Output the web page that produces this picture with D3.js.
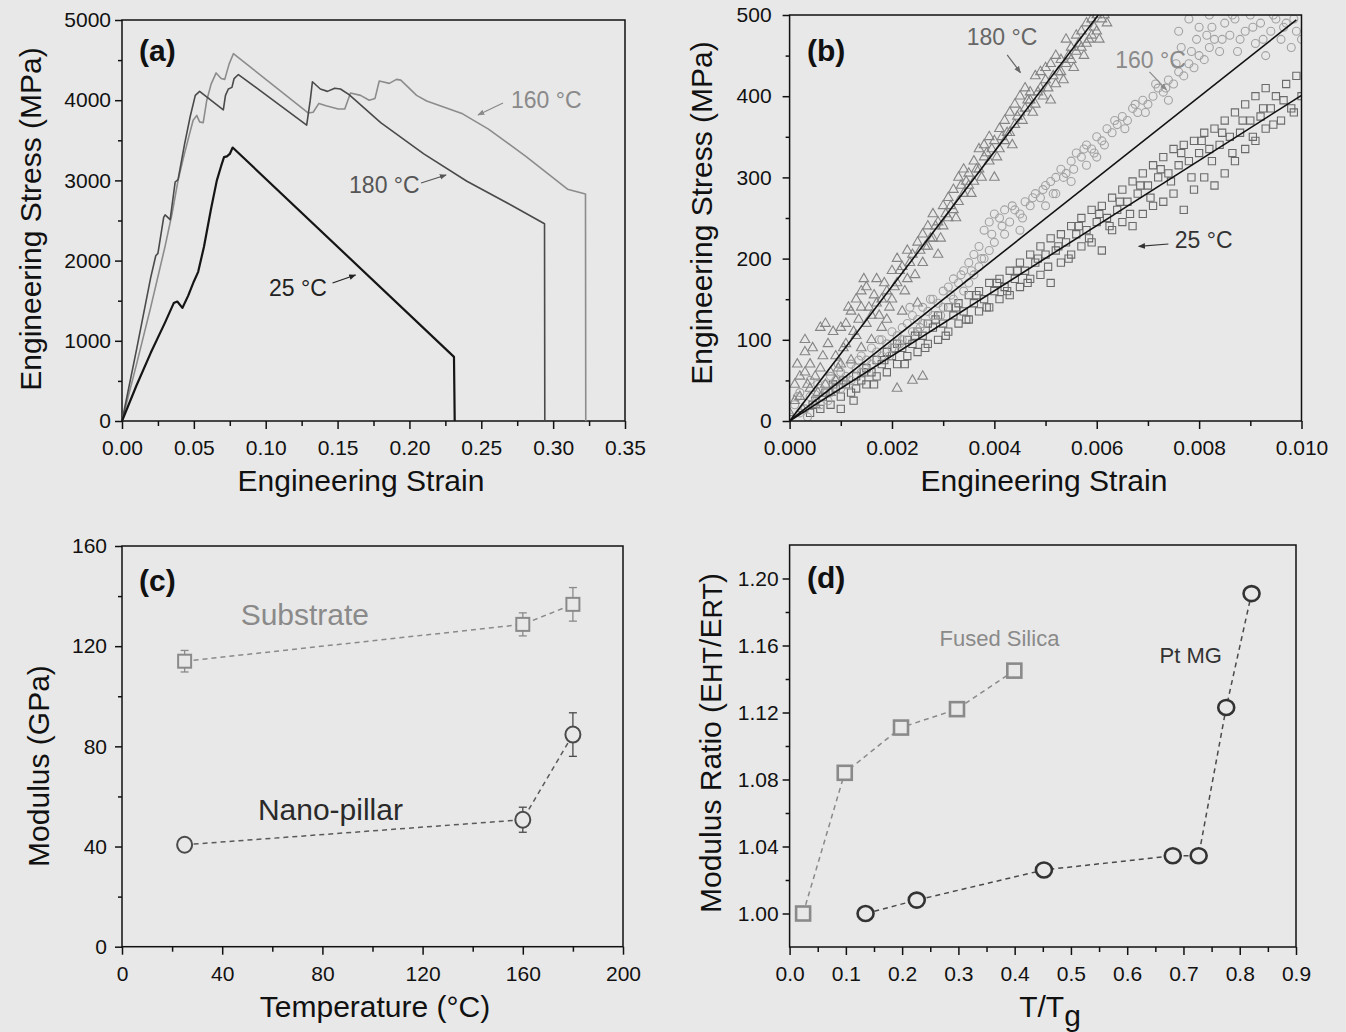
<!DOCTYPE html>
<html>
<head>
<meta charset="utf-8">
<script src="https://cdn.jsdelivr.net/npm/d3@7"></script>
<style>
body { margin: 0; background: #e8e8e8; }
svg { display: block; font-family: "Liberation Sans", Arial, sans-serif; }
.axis text { font-size: 21px; fill: #111; }
.axis line { stroke: #111; stroke-width: 1.5px; }
.title { font-size: 30px; fill: #111; }
.plabel { font-size: 30px; font-weight: bold; fill: #111; }
</style>
</head>
<body>
<script>
// ---- panel (a): stress-strain curves [strain, stress MPa]
var curve160 = [[0,0],[0.010,700],[0.020,1420],[0.030,2180],[0.035,2600],[0.039,3000],[0.043,3300],[0.047,3580],
    [0.0495,3750],[0.052,3810],[0.054,3730],[0.0565,3720],[0.059,4000],[0.062,4200],[0.0655,4340],[0.069,4270],
    [0.0715,4260],[0.0745,4450],[0.0775,4580],[0.1297,3840],[0.133,3850],[0.137,3960],[0.142,3930],[0.1505,3890],
    [0.155,3890],[0.159,4090],[0.166,4060],[0.172,4000],[0.176,4020],[0.179,4240],[0.186,4210],[0.191,4260],
    [0.194,4250],[0.205,4060],[0.212,3990],[0.237,3830],[0.255,3640],[0.281,3300],[0.310,2890],[0.3225,2830],[0.3227,0]];
var curve180 = [[0,0],[0.010,880],[0.020,1790],[0.0235,2060],[0.025,2090],[0.029,2540],[0.030,2570],[0.0335,2510],
    [0.037,2980],[0.039,3010],[0.0435,3450],[0.0475,3800],[0.051,4060],[0.054,4110],[0.0705,3880],[0.072,4060],
    [0.074,4140],[0.0765,4160],[0.078,4270],[0.081,4320],[0.1285,3690],[0.131,4000],[0.1325,4230],[0.138,4140],
    [0.143,4110],[0.148,4150],[0.152,4140],[0.158,4070],[0.180,3720],[0.210,3330],[0.240,2990],[0.270,2700],
    [0.294,2460],[0.2942,0]];
var curve25 = [[0,0],[0.010,440],[0.020,850],[0.030,1230],[0.036,1470],[0.0385,1490],[0.042,1410],[0.046,1560],
    [0.050,1740],[0.053,1860],[0.057,2170],[0.062,2650],[0.066,3000],[0.069,3180],[0.071,3290],[0.073,3300],
    [0.075,3330],[0.077,3410],[0.231,800],[0.2315,0]];

// ---- panel (b): elastic region scatter [strain, stress MPa]
var tri180 = [[0,10],[.0001,45],[.0001,25],[.0002,55],[.0002,30],[.0003,100],[.0003,85],[.0003,60],[.0004,40],[.0004,70],
    [.0005,20],[.0005,55],[.0006,65],[.0006,115],[.0007,120],[.0007,45],[.0008,60],[.0008,35],[.0009,80],[.0009,50],
    [.0010,115],[.0010,70],[.0011,95],[.0011,120],[.0012,135],[.0012,75],[.0013,150],[.0013,105],[.0014,160],[.0014,140],
    [.0014,90],[.0015,165],[.0015,120],[.0016,130],[.0016,100],[.0017,175],[.0017,145],[.0018,150],[.0018,115],[.0019,160],
    [.0019,125],[.0020,185],[.0020,150],[.0021,200],[.0021,170],[.0021,40],[.0022,190],[.0022,135],[.0023,210],[.0023,175],
    [.0024,205],[.0024,50],[.0025,220],[.0025,145],[.0026,230],[.0026,195],[.0026,55],[.0027,240],[.0027,215],[.0028,255],
    [.0028,225],[.0029,245],[.0029,205],[.0030,265],[.0030,240],[.0031,275],[.0031,250],[.0032,285],[.0032,260],[.0033,300],
    [.0033,270],[.0034,310],[.0034,280],[.0035,305],[.0035,290],[.0036,320],[.0036,295],[.0037,335],[.0037,310],[.0038,340],
    [.0038,325],[.0039,350],[.0039,320],[.0040,345],[.0040,300],[.0041,360],[.0041,335],[.0042,370],[.0042,345],[.0043,380],
    [.0043,355],[.0044,390],[.0044,365],[.0045,400],[.0045,380],[.0046,410],[.0046,385],[.0047,405],[.0047,395],[.0048,425],
    [.0048,390],[.0049,430],[.0049,410],[.0050,435],[.0050,420],[.0051,440],[.0051,395],[.0052,450],[.0052,415],[.0053,445],
    [.0053,430],[.0054,470],[.0054,440],[.0055,460],[.0055,445],[.0056,475],[.0056,455],[.0057,480],[.0057,460],[.0058,490],
    [.0058,465],[.0059,495],[.0059,475],[.0060,500],[.0060,480],[.0061,495],[.0062,490],
    [.00015,70],[.00025,15],[.00035,45],[.00045,90],[.00055,35],[.00065,80],[.00075,95],[.00085,110],[.00095,65],[.00105,90],
    [.00115,140],[.00125,110],[.00135,125],[.00145,175],[.00155,140],[.00165,155],[.00175,130],[.00185,170],[.00195,140],
    [.00205,165],[.00215,185],[.00225,160],[.00235,195],[.00245,180],[.00255,210],[.00265,215],[.00275,225],[.00285,240],
    [.00295,225],[.00305,255],[.00315,265],[.00325,250],[.00335,290],[.00345,295],[.00355,280],[.00365,310],[.00375,300],
    [.00385,330],[.00395,335],[.00405,325],[.00415,350],[.00425,355],[.00435,340],[.00445,375],[.00455,370],[.00465,395],
    [.00475,380],[.00485,405],[.00495,400],[.00505,410],[.00515,425],[.00525,430],[.00535,420],[.00545,450],[.00555,435],
    [.00565,465],[.00575,450],[.00585,470],[.00595,485],[.00605,470],[.00615,500]];
var circ160 = [[0,5],[.0001,20],[.0002,10],[.0002,35],[.0003,15],[.0004,30],[.0004,50],[.0005,25],[.0006,40],[.0006,20],
    [.0007,45],[.0008,35],[.0008,55],[.0009,50],[.0010,60],[.0010,40],[.0011,55],[.0012,70],[.0012,50],[.0013,65],
    [.0014,80],[.0014,60],[.0015,75],[.0016,90],[.0016,70],[.0017,85],[.0018,100],[.0018,80],[.0019,95],[.0020,110],
    [.0020,90],[.0021,105],[.0022,115],[.0022,100],[.0023,120],[.0024,130],[.0024,110],[.0025,125],[.0026,140],[.0026,120],
    [.0027,135],[.0028,150],[.0028,130],[.0029,145],[.0030,160],[.0030,140],[.0031,165],[.0032,175],[.0032,150],[.0033,170],
    [.0034,185],[.0034,160],[.0035,195],[.0035,170],[.0036,205],[.0036,180],[.0037,215],[.0037,190],[.0038,235],[.0038,200],
    [.0039,245],[.0039,210],[.0040,255],[.0040,220],[.0041,250],[.0042,260],[.0042,230],[.0043,245],[.0044,260],[.0045,255],
    [.0045,235],[.0046,270],[.0047,265],[.0048,280],[.0049,275],[.0050,290],[.0050,265],[.0051,295],[.0052,300],[.0052,280],
    [.0053,310],[.0054,305],[.0055,320],[.0055,295],[.0056,330],[.0057,325],[.0058,340],[.0058,315],[.0059,335],[.0060,350],
    [.0060,325],[.0061,345],[.0062,360],[.0063,355],[.0064,365],[.0065,375],[.0066,370],[.0067,385],[.0068,380],[.0069,395],
    [.0070,390],[.0071,400],[.0072,410],[.0073,405],[.0074,420],[.0074,395],[.0075,415],[.0076,430],[.0076,480],[.0077,425],
    [.0078,440],[.0078,495],[.0079,435],[.0080,450],[.0080,485],[.0081,445],[.0082,460],[.0082,500],[.0083,470],[.0084,455],
    [.0085,490],[.0086,475],[.0087,495],[.0088,470],[.0089,480],[.0090,500],[.0091,465],[.0092,490],[.0093,450],[.0094,480],
    [.0095,495],[.0096,470],[.0097,490],[.0098,460],[.0099,480],[.0100,470],
    [.00015,30],[.00035,5],[.00055,45],[.00075,25],[.00095,70],[.00115,45],[.00135,75],[.00155,60],[.00175,100],[.00195,80],
    [.00215,95],[.00235,140],[.00255,115],[.00275,150],[.00295,130],[.00315,155],[.00335,180],[.00355,185],[.00375,200],
    [.00395,230],[.00415,240],[.00435,265],[.00455,250],[.00475,275],[.00495,285],[.00515,280],[.00535,300],[.00555,310],
    [.00575,335],[.00595,330],[.00615,340],[.00635,370],[.00655,360],[.00675,390],[.00695,380],[.00715,415],[.00735,410],
    [.00755,440],[.00765,460],[.00785,455],[.00795,470],[.00815,475],[.00825,485],[.00845,470],[.00865,500],[.00875,455],
    [.00905,485],[.00925,470],[.00945,500],[.00965,485],[.00985,495]];
var sq25 = [[.0004,10],[.0005,25],[.0006,15],[.0007,35],[.0008,20],[.0009,40],[.0010,30],[.0010,15],[.0011,45],[.0012,35],
    [.0013,55],[.0013,40],[.0014,50],[.0015,65],[.0015,45],[.0016,60],[.0017,75],[.0017,55],[.0018,70],[.0019,85],
    [.0019,60],[.0020,80],[.0021,95],[.0021,70],[.0022,90],[.0023,100],[.0023,80],[.0024,95],[.0025,110],[.0025,85],
    [.0026,105],[.0027,120],[.0027,95],[.0028,115],[.0029,130],[.0029,100],[.0030,120],[.0031,140],[.0031,110],[.0032,130],
    [.0033,145],[.0033,120],[.0034,135],[.0035,155],[.0035,125],[.0036,145],[.0037,160],[.0037,135],[.0038,150],[.0039,170],
    [.0039,140],[.0040,160],[.0041,175],[.0041,150],[.0042,165],[.0043,185],[.0043,155],[.0044,175],[.0045,195],[.0045,165],
    [.0046,185],[.0047,205],[.0047,175],[.0048,195],[.0049,215],[.0049,180],[.0050,205],[.0051,225],[.0051,170],[.0052,210],
    [.0053,230],[.0053,195],[.0054,220],[.0055,240],[.0055,205],[.0056,230],[.0057,250],[.0057,215],[.0058,235],[.0059,260],
    [.0059,220],[.0060,245],[.0061,265],[.0061,210],[.0062,250],[.0063,275],[.0063,235],[.0064,260],[.0065,285],[.0065,245],
    [.0066,270],[.0067,295],[.0067,240],[.0068,280],[.0069,305],[.0069,255],[.0070,290],[.0071,315],[.0071,265],[.0072,300],
    [.0073,325],[.0073,270],[.0074,305],[.0075,335],[.0075,280],[.0076,315],[.0077,340],[.0077,260],[.0078,320],[.0079,345],
    [.0079,285],[.0080,330],[.0081,355],[.0081,300],[.0082,335],[.0083,360],[.0083,290],[.0084,340],[.0085,370],[.0085,305],
    [.0086,350],[.0087,380],[.0087,320],[.0088,355],[.0089,390],[.0089,335],[.0090,370],[.0091,400],[.0091,345],[.0092,375],
    [.0093,410],[.0093,360],[.0094,385],[.0095,400],[.0096,370],[.0097,415],[.0098,385],[.0099,425],[.0100,400],
    [.00045,20],[.00065,30],[.00085,45],[.00105,50],[.00125,25],[.00145,60],[.00165,45],[.00185,75],[.00205,90],[.00225,70],
    [.00245,105],[.00265,90],[.00285,125],[.00305,105],[.00325,140],[.00345,125],[.00365,155],[.00385,140],[.00405,170],
    [.00425,160],[.00445,185],[.00465,170],[.00485,200],[.00505,190],[.00525,215],[.00545,200],[.00565,240],[.00585,225],
    [.00605,255],[.00625,240],[.00645,270],[.00665,255],[.00685,290],[.00705,275],[.00725,310],[.00745,295],[.00765,330],
    [.00785,300],[.00805,345],[.00825,320],[.00845,355],[.00865,330],[.00885,370],[.00905,350],[.00925,385],[.00945,365],
    [.00965,395],[.00985,380]];
var fit180 = [[0,0],[0.00603,500]];
var fit160 = [[0,0],[0.0099,494]];
var fit25 = [[0,0],[0.0100,401]];

// ---- panel (c): modulus vs temperature
var temps = [25, 160, 180];
var substrate = [114, 128.7, 136.7];
var substrateErr = [4.3, 4.6, 6.7];
var pillar = [40.7, 50.7, 84.7];
var pillarErr = [2.5, 5, 8.7];

// ---- panel (d): modulus ratio vs T/Tg
var silicaT = [0.024, 0.098, 0.198, 0.2975, 0.3994];
var silicaR = [1.000, 1.084, 1.111, 1.122, 1.145];
var ptmgT = [0.135, 0.226, 0.452, 0.681, 0.727, 0.776, 0.821];
var ptmgR = [1.000, 1.008, 1.026, 1.0345, 1.0345, 1.123, 1.191];

// tick labels
var ticksAx = [0, 0.05, 0.10, 0.15, 0.20, 0.25, 0.30, 0.35];
var ticksAy = [0, 1000, 2000, 3000, 4000, 5000];
var ticksBx = [0, 0.002, 0.004, 0.006, 0.008, 0.010];
var ticksBy = [0, 100, 200, 300, 400, 500];
var ticksCx = [0, 40, 80, 120, 160, 200];
var ticksCy = [0, 40, 80, 120, 160];
var ticksDx = [0, 0.1, 0.2, 0.3, 0.4, 0.5, 0.6, 0.7, 0.8, 0.9];
var ticksDy = [1.00, 1.04, 1.08, 1.12, 1.16, 1.20];

var svg = d3.select("body").append("svg")
    .attr("width", 1346)
    .attr("height", 1032);

svg.append("rect").attr("width", 1346).attr("height", 1032).attr("fill", "#e8e8e8");

var arrowColors = ["#8a8a8a", "#555", "#222", "#666", "#333"];
var defs = svg.append("defs");
arrowColors.forEach(function(c, i) {
    defs.append("marker")
        .attr("id", "arr" + i)
        .attr("viewBox", "0 0 10 10")
        .attr("refX", 9).attr("refY", 5)
        .attr("markerWidth", 7).attr("markerHeight", 7)
        .attr("markerUnits", "userSpaceOnUse")
        .attr("orient", "auto")
        .append("path")
        .attr("d", "M0,1 L10,5 L0,9 z")
        .attr("fill", c);
});

function axes(g, x, y, o) {
    var b = y.range()[0], t = y.range()[1], l = x.range()[0], r = x.range()[1];
    g.append("g").attr("class", "axis").attr("transform", "translate(0," + b + ")")
        .call(d3.axisBottom(x).tickValues(o.xMinor).tickSize(5).tickSizeOuter(0).tickFormat(""))
        .call(s => s.select(".domain").remove());
    g.append("g").attr("class", "axis").attr("transform", "translate(0," + b + ")")
        .call(d3.axisBottom(x).tickValues(o.xMajor).tickSize(8).tickSizeOuter(0).tickPadding(11).tickFormat(o.xFmt))
        .call(s => s.select(".domain").remove());
    g.append("g").attr("class", "axis").attr("transform", "translate(" + l + ",0)")
        .call(d3.axisLeft(y).tickValues(o.yMinor).tickSize(4).tickSizeOuter(0).tickFormat(""))
        .call(s => s.select(".domain").remove());
    g.append("g").attr("class", "axis").attr("transform", "translate(" + l + ",0)")
        .call(d3.axisLeft(y).tickValues(o.yMajor).tickSize(7).tickSizeOuter(0).tickPadding(o.yPad).tickFormat(o.yFmt))
        .call(s => s.select(".domain").remove());
    g.append("rect")
        .attr("x", l).attr("y", t)
        .attr("width", r - l).attr("height", b - t)
        .attr("fill", "none").attr("stroke", "#111").attr("stroke-width", 1.5);
}

function titles(g, xt, xpos, yt, ypos) {
    g.append("text").attr("class", "title")
        .attr("x", xpos[0]).attr("y", xpos[1])
        .attr("text-anchor", "middle").attr("dominant-baseline", "central")
        .text(xt);
    g.append("text").attr("class", "title")
        .attr("transform", "translate(" + ypos[0] + "," + ypos[1] + ") rotate(-90)")
        .attr("text-anchor", "middle").attr("dominant-baseline", "central")
        .text(yt);
}

function callout(g, x, y, d, size, anchor) {
    g.append("text")
        .attr("x", x(d.at[0])).attr("y", y(d.at[1]))
        .attr("text-anchor", anchor).attr("dominant-baseline", "central")
        .attr("font-size", size).attr("fill", d.color)
        .text(d.text);
    g.append("line")
        .attr("x1", x(d.from[0])).attr("y1", y(d.from[1]))
        .attr("x2", x(d.to[0])).attr("y2", y(d.to[1]))
        .attr("stroke", d.color).attr("stroke-width", 1.2)
        .attr("marker-end", "url(#arr" + arrowColors.indexOf(d.color) + ")");
}

var fmt = d3.format(".2f");

// ============ (a) ============
var ga = svg.append("g");
var xa = d3.scaleLinear().domain([0, 0.35]).range([122, 625]);
var ya = d3.scaleLinear().domain([0, 5000]).range([421, 20]);
axes(ga, xa, ya, {
    xMajor: ticksAx, xMinor: d3.range(0.025, 0.35, 0.05), xFmt: fmt,
    yMajor: ticksAy, yMinor: d3.range(500, 5000, 1000), yFmt: d3.format("d"), yPad: 4
});
var lineA = d3.line().x(d => xa(d[0])).y(d => ya(d[1]));
[[curve160, "#8c8c8c", 1.6], [curve180, "#4a4a4a", 1.6], [curve25, "#151515", 2.2]].forEach(function(c) {
    ga.append("path").datum(c[0])
        .attr("d", lineA)
        .attr("fill", "none")
        .attr("stroke", c[1])
        .attr("stroke-width", c[2])
        .attr("stroke-linejoin", "round");
});
var labelsA = [
    {text: "160 °C", at: [0.2707, 4002], from: [0.2651, 3965], to: [0.2477, 3815], color: "#8a8a8a"},
    {text: "180 °C", at: [0.158, 2943], from: [0.2081, 2968], to: [0.2255, 3067], color: "#555"},
    {text: "25 °C", at: [0.1023, 1658], from: [0.1465, 1721], to: [0.1625, 1820], color: "#222"}
];
labelsA.forEach(d => callout(ga, xa, ya, d, 23, "start"));
ga.append("text").attr("class", "plabel").attr("x", 139).attr("y", 50)
    .attr("dominant-baseline", "central").text("(a)");
titles(ga, "Engineering Strain", [361, 480], "Engineering Stress (MPa)", [30, 219]);

// ============ (b) ============
var gb = svg.append("g");
var xb = d3.scaleLinear().domain([0, 0.010]).range([789.6, 1301.5]);
var yb = d3.scaleLinear().domain([0, 500]).range([421, 15]);
gb.append("clipPath").attr("id", "clipb").append("rect")
    .attr("x", 789.6).attr("y", 15).attr("width", 1301.5 - 789.6).attr("height", 406);
var pts = gb.append("g").attr("clip-path", "url(#clipb)");
[[sq25, d3.symbolSquare, 52, "#6a6a6a"], [circ160, d3.symbolCircle, 50, "#a2a2a2"], [tri180, d3.symbolTriangle, 40, "#858585"]]
    .forEach(function(s) {
        pts.append("g").selectAll("path")
            .data(s[0])
            .join("path")
            .attr("transform", d => "translate(" + xb(d[0]) + "," + yb(d[1]) + ")")
            .attr("d", d3.symbol(s[1], s[2]))
            .attr("fill", "none")
            .attr("stroke", s[3])
            .attr("stroke-width", 1.1);
    });
var lineB = d3.line().x(d => xb(d[0])).y(d => yb(d[1]));
[fit180, fit160, fit25].forEach(function(f) {
    pts.append("path").datum(f).attr("d", lineB)
        .attr("fill", "none").attr("stroke", "#111").attr("stroke-width", 1.6);
});
axes(gb, xb, yb, {
    xMajor: ticksBx, xMinor: d3.range(0.001, 0.010, 0.002), xFmt: d3.format(".3f"),
    yMajor: ticksBy, yMinor: d3.range(50, 500, 100), yFmt: d3.format("d"), yPad: 11
});
var labelsB = [
    {text: "180 °C", at: [0.00415, 473], from: [0.00425, 451], to: [0.00451, 429], color: "#666"},
    {text: "160 °C", at: [0.00705, 445], from: [0.00703, 430], to: [0.00736, 408], color: "#8a8a8a"},
    {text: "25 °C", at: [0.00809, 223], from: [0.0074, 218], to: [0.00682, 215], color: "#333"}
];
labelsB.forEach(d => callout(gb, xb, yb, d, 23, "middle"));
gb.append("text").attr("class", "plabel").attr("x", 807).attr("y", 50)
    .attr("dominant-baseline", "central").text("(b)");
titles(gb, "Engineering Strain", [1044, 480], "Engineering Stress (MPa)", [701, 213]);

// ============ (c) ============
var gc = svg.append("g");
var xc = d3.scaleLinear().domain([0, 200]).range([122, 623]);
var yc = d3.scaleLinear().domain([0, 160]).range([946.7, 546]);
axes(gc, xc, yc, {
    xMajor: ticksCx, xMinor: d3.range(20, 200, 40), xFmt: d3.format("d"),
    yMajor: ticksCy, yMinor: d3.range(20, 160, 40), yFmt: d3.format("d"), yPad: 8
});
var seriesC = [
    {vals: substrate, err: substrateErr, color: "#8a8a8a", dash: "#8a8a8a", shape: "square"},
    {vals: pillar, err: pillarErr, color: "#4a4a4a", dash: "#5a5a5a", shape: "circle"}
];
seriesC.forEach(function(s) {
    var data = temps.map((t, i) => ({t: t, v: s.vals[i], e: s.err[i]}));
    gc.append("path").datum(data)
        .attr("d", d3.line().x(d => xc(d.t)).y(d => yc(d.v)))
        .attr("fill", "none").attr("stroke", s.dash)
        .attr("stroke-width", 1.5).attr("stroke-dasharray", "5,4");
    var eb = gc.append("g").selectAll("g").data(data).join("g");
    eb.append("line")
        .attr("x1", d => xc(d.t)).attr("x2", d => xc(d.t))
        .attr("y1", d => yc(d.v - d.e)).attr("y2", d => yc(d.v + d.e))
        .attr("stroke", s.color).attr("stroke-width", 1.3);
    [-1, 1].forEach(function(sg) {
        eb.append("line")
            .attr("x1", d => xc(d.t) - 4).attr("x2", d => xc(d.t) + 4)
            .attr("y1", d => yc(d.v + sg * d.e)).attr("y2", d => yc(d.v + sg * d.e))
            .attr("stroke", s.color).attr("stroke-width", 1.3);
    });
    if (s.shape == "square") {
        eb.append("rect")
            .attr("x", d => xc(d.t) - 6.5).attr("y", d => yc(d.v) - 6.5)
            .attr("width", 13).attr("height", 13)
            .attr("fill", "#e8e8e8").attr("stroke", s.color).attr("stroke-width", 2);
    } else {
        eb.append("ellipse")
            .attr("cx", d => xc(d.t)).attr("cy", d => yc(d.v))
            .attr("rx", 7.5).attr("ry", 8)
            .attr("fill", "#e8e8e8").attr("stroke", s.color).attr("stroke-width", 2);
    }
});
gc.append("text").attr("x", xc(73)).attr("y", yc(132.7))
    .attr("text-anchor", "middle").attr("dominant-baseline", "central")
    .attr("font-size", 30).attr("fill", "#8a8a8a").text("Substrate");
gc.append("text").attr("x", xc(83.2)).attr("y", yc(54.7))
    .attr("text-anchor", "middle").attr("dominant-baseline", "central")
    .attr("font-size", 30).attr("fill", "#2a2a2a").text("Nano-pillar");
gc.append("text").attr("class", "plabel").attr("x", 139).attr("y", 580)
    .attr("dominant-baseline", "central").text("(c)");
titles(gc, "Temperature (°C)", [375, 1006], "Modulus (GPa)", [38, 766]);

// ============ (d) ============
var gd = svg.append("g");
var xd = d3.scaleLinear().domain([0, 0.9]).range([789.6, 1296]);
var yd = d3.scaleLinear().domain([0.98, 1.22]).range([947, 545]);
axes(gd, xd, yd, {
    xMajor: ticksDx, xMinor: d3.range(0.05, 0.9, 0.1), xFmt: d3.format(".1f"),
    yMajor: ticksDy, yMinor: d3.range(1.02, 1.22, 0.04), yFmt: fmt, yPad: 4
});
var seriesD = [
    {t: silicaT, r: silicaR, color: "#8a8a8a", dash: "#8a8a8a", shape: "square"},
    {t: ptmgT, r: ptmgR, color: "#333", dash: "#4a4a4a", shape: "circle"}
];
seriesD.forEach(function(s) {
    var data = s.t.map((t, i) => ({t: t, v: s.r[i]}));
    gd.append("path").datum(data)
        .attr("d", d3.line().x(d => xd(d.t)).y(d => yd(d.v)))
        .attr("fill", "none").attr("stroke", s.dash)
        .attr("stroke-width", 1.5).attr("stroke-dasharray", "5,4");
    var m = gd.append("g").selectAll("g").data(data).join("g");
    if (s.shape == "square") {
        m.append("rect")
            .attr("x", d => xd(d.t) - 7).attr("y", d => yd(d.v) - 7)
            .attr("width", 14).attr("height", 14)
            .attr("fill", "#e8e8e8").attr("stroke", s.color).attr("stroke-width", 2.6);
    } else {
        m.append("ellipse")
            .attr("cx", d => xd(d.t)).attr("cy", d => yd(d.v))
            .attr("rx", 8).attr("ry", 7.5)
            .attr("fill", "#e8e8e8").attr("stroke", s.color).attr("stroke-width", 2.6);
    }
});
gd.append("text").attr("x", xd(0.373)).attr("y", yd(1.164))
    .attr("text-anchor", "middle").attr("dominant-baseline", "central")
    .attr("font-size", 22).attr("fill", "#8a8a8a").text("Fused Silica");
gd.append("text").attr("x", xd(0.713)).attr("y", yd(1.154))
    .attr("text-anchor", "middle").attr("dominant-baseline", "central")
    .attr("font-size", 22).attr("fill", "#333").text("Pt MG");
gd.append("text").attr("class", "plabel").attr("x", 807).attr("y", 577)
    .attr("dominant-baseline", "central").text("(d)");

var xtD = gd.append("text").attr("class", "title")
    .attr("x", 1050).attr("y", 1006)
    .attr("text-anchor", "middle").attr("dominant-baseline", "central");
xtD.append("tspan").text("T/T");
xtD.append("tspan").attr("dy", 9).text("g");

var ytD = gd.append("text").attr("class", "title")
    .attr("transform", "translate(710,743) rotate(-90)")
    .attr("text-anchor", "middle").attr("dominant-baseline", "central");
ytD.append("tspan").text("Modulus Ratio (E");
ytD.append("tspan").attr("font-size", 27).attr("dy", 3).text("HT");
ytD.append("tspan").attr("dy", -3).text("/E");
ytD.append("tspan").attr("font-size", 27).attr("dy", 3).text("RT");
ytD.append("tspan").attr("dy", -3).text(")");
</script>
</body>
</html>
